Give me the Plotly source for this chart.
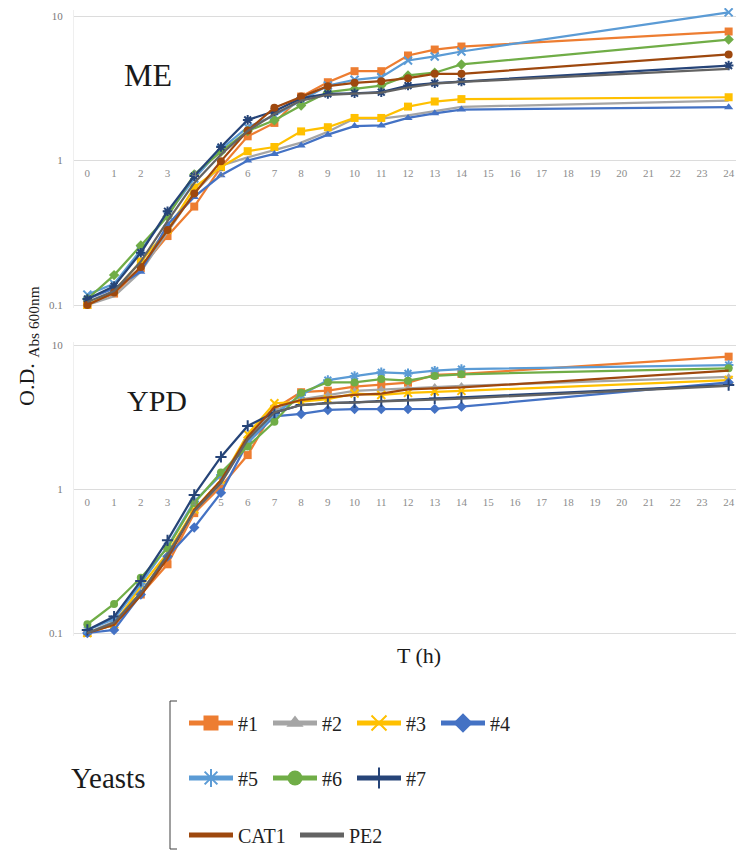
import plotly.graph_objects as go

W, H = 744, 861
OFF = 8  # page body margin of the html page

hours = [0, 1, 2, 3, 4, 5, 6, 7, 8, 9, 10, 11, 12, 13, 14, 24]
names = ["#1", "#2", "#3", "#4", "#5", "#6", "#7", "CAT1", "PE2"]
colors = ["#ED7D31", "#A5A5A5", "#FFC000", "#4472C4", "#5B9BD5", "#70AD47", "#264478", "#9E480E", "#636363"]

# ME medium (top panel)
me_1 = [0.10, 0.12, 0.18, 0.30, 0.48, 0.90, 1.47, 1.82, 2.77, 3.48, 4.15, 4.15, 5.33, 5.86, 6.15, 7.81]
me_2 = [0.10, 0.115, 0.17, 0.32, 0.60, 0.92, 1.05, 1.18, 1.33, 1.58, 1.95, 1.95, 2.05, 2.20, 2.35, 2.60]
me_3 = [0.10, 0.125, 0.20, 0.33, 0.65, 0.90, 1.16, 1.24, 1.59, 1.70, 1.97, 1.97, 2.36, 2.56, 2.66, 2.74]
me_4 = [0.11, 0.13, 0.17, 0.36, 0.56, 0.79, 1.00, 1.11, 1.27, 1.51, 1.73, 1.75, 1.97, 2.12, 2.25, 2.34]
me_5 = [0.118, 0.14, 0.24, 0.42, 0.75, 1.20, 1.70, 2.05, 2.60, 3.30, 3.62, 3.77, 4.92, 5.25, 5.68, 10.6]
me_6 = [0.11, 0.161, 0.258, 0.41, 0.80, 1.15, 1.60, 1.90, 2.40, 2.97, 3.13, 3.30, 3.88, 4.05, 4.62, 6.87]
me_7 = [0.11, 0.135, 0.23, 0.445, 0.78, 1.24, 1.91, 2.19, 2.70, 2.89, 2.92, 2.97, 3.30, 3.43, 3.52, 4.54]
me_cat1 = [0.10, 0.122, 0.183, 0.33, 0.59, 0.99, 1.61, 2.32, 2.77, 3.27, 3.45, 3.54, 3.71, 3.98, 3.98, 5.42]
me_pe2 = [0.105, 0.125, 0.20, 0.38, 0.70, 1.10, 1.60, 2.10, 2.60, 2.85, 2.90, 2.95, 3.20, 3.40, 3.50, 4.31]

# YPD medium (bottom panel)
ypd_1 = [0.10, 0.114, 0.185, 0.30, 0.68, 1.04, 1.72, 3.60, 4.70, 4.82, 5.13, 5.27, 5.47, 6.20, 6.30, 8.30]
ypd_2 = [0.10, 0.12, 0.19, 0.34, 0.70, 1.10, 2.25, 3.50, 4.20, 4.50, 4.80, 4.90, 5.00, 5.10, 5.20, 6.00]
ypd_3 = [0.10, 0.115, 0.21, 0.36, 0.72, 1.15, 2.40, 3.94, 4.05, 4.20, 4.60, 4.50, 4.65, 4.75, 4.80, 5.71]
ypd_4 = [0.10, 0.105, 0.185, 0.34, 0.54, 0.94, 2.10, 3.20, 3.32, 3.54, 3.59, 3.59, 3.59, 3.60, 3.73, 5.50]
ypd_5 = [0.105, 0.125, 0.22, 0.40, 0.82, 1.25, 2.10, 3.30, 4.50, 5.70, 6.09, 6.46, 6.35, 6.63, 6.80, 7.26]
ypd_6 = [0.115, 0.159, 0.242, 0.39, 0.80, 1.30, 1.97, 2.93, 4.66, 5.51, 5.50, 5.80, 5.65, 6.10, 6.26, 6.89]
ypd_7 = [0.105, 0.13, 0.23, 0.44, 0.91, 1.67, 2.74, 3.39, 3.83, 3.95, 4.00, 4.08, 4.15, 4.25, 4.30, 5.27]
ypd_cat1 = [0.10, 0.114, 0.182, 0.33, 0.72, 1.15, 2.30, 3.70, 4.15, 4.33, 4.50, 4.60, 4.92, 5.00, 5.07, 6.63]
ypd_pe2 = [0.10, 0.118, 0.19, 0.35, 0.70, 1.10, 2.20, 3.40, 3.83, 3.95, 4.00, 4.05, 4.10, 4.20, 4.25, 5.20]

me_series = [me_1, me_2, me_3, me_4, me_5, me_6, me_7, me_cat1, me_pe2]
ypd_series = [ypd_1, ypd_2, ypd_3, ypd_4, ypd_5, ypd_6, ypd_7, ypd_cat1, ypd_pe2]

x_ticks = list(range(0, 25))
y_tickvals = [0.1, 1, 10]
y_ticktext = ["0.1", "1", "10"]

top_symbols = ["square", None, "square", "triangle-up", "x-thin", "diamond", "asterisk", "circle", None]
bot_symbols = ["square", "triangle-up", "x-thin", "diamond", "asterisk", "circle", "cross-thin", None, None]
leg_symbols = ["square", "triangle-up", "x-thin", "diamond", "asterisk", "circle", "line-ns", None, None]
leg_groups = ["legend", "legend", "legend", "legend", "legend2", "legend2", "legend2", "legend3", "legend3"]

FONT = "Liberation Serif"


def px(p):
    return (p - OFF) / W


def py(p):
    return 1 - (p - OFF) / H


def marker_for(sym, color, size):
    if sym is None:
        return None
    open_like = sym in ("x-thin", "asterisk", "cross-thin", "line-ns")
    m = dict(symbol=sym, size=size, color=color)
    if open_like:
        m["line"] = dict(color=color, width=2)
    else:
        m["line"] = dict(width=0)
    return m


fig = go.Figure()

for series, syms, xa, ya in [(me_series, top_symbols, "x", "y"), (ypd_series, bot_symbols, "x2", "y2")]:
    for name, color, vals, sym in zip(names, colors, series, syms):
        m = marker_for(sym, color, 8)
        fig.add_trace(go.Scatter(
            x=hours, y=vals, name=name, xaxis=xa, yaxis=ya,
            mode="lines+markers" if m else "lines",
            line=dict(color=color, width=2.25),
            marker=m, showlegend=False, cliponaxis=False, hoverinfo="skip"))

# legend entries
for name, color, sym, lg in zip(names, colors, leg_symbols, leg_groups):
    m = marker_for(sym, color, 15)
    fig.add_trace(go.Scatter(
        x=[None], y=[None], name=name, legend=lg,
        mode="lines+markers" if m else "lines",
        line=dict(color=color, width=5), marker=m))

grid = "#DCDCDC"
xcommon = dict(range=[-0.5, 24.5], tickvals=x_ticks, showgrid=False, zeroline=False,
               showline=False, ticks="", tickfont=dict(family=FONT, size=11, color="#8C8C8C"),
               domain=[px(74), px(742)], ticklabelstandoff=5, automargin=False)
ycommon = dict(type="log", tickvals=y_tickvals, ticktext=y_ticktext, showgrid=True,
               gridcolor=grid, gridwidth=1.3, zeroline=False, showline=True, linecolor="#EFEFEF",
               ticks="", tickfont=dict(family=FONT, size=11, color="#7A7A7A"), ticklabelstandoff=8,
               automargin=False)

top_dom = [py(305 + 0.02 * 144.5), py(16 - 0.04 * 144.5)]
bot_dom = [py(633 + 0.02 * 144), py(345 - 0.02 * 144)]

leg_common = dict(orientation="h", font=dict(family=FONT, size=20, color="#222222"),
                  itemwidth=44, bgcolor="rgba(0,0,0,0)", xanchor="left", yanchor="middle",
                  entrywidth=25, entrywidthmode="pixels", tracegroupgap=0)


def ann(text, x, y, size, **kw):
    return dict(text=text, x=px(x), y=py(y), xref="paper", yref="paper", showarrow=False,
                xanchor="center", yanchor="middle",
                font=dict(family=FONT, size=size, color="#1A1A1A"), **kw)


def seg(x0, y0, x1, y1):
    return dict(type="line", xref="paper", yref="paper", x0=px(x0), x1=px(x1), y0=py(y0), y1=py(y1),
                line=dict(color="#404040", width=1))


fig.update_layout(
    width=W, height=H, margin=dict(l=0, r=0, t=0, b=0, autoexpand=False),
    paper_bgcolor="white", plot_bgcolor="white",
    xaxis=dict(**xcommon, anchor="free", position=py(160)),
    xaxis2=dict(**xcommon, anchor="free", position=py(489)),
    yaxis=dict(**ycommon, range=[-1.02, 1.04], domain=top_dom, anchor="x"),
    yaxis2=dict(**ycommon, range=[-1.02, 1.02], domain=bot_dom, anchor="x2"),
    legend=dict(**leg_common, x=px(184), y=py(723)),
    legend2=dict(**leg_common, x=px(184), y=py(778)),
    legend3=dict(**{**leg_common, "entrywidth": 52}, x=px(184), y=py(835)),
    annotations=[
        ann("ME", 148, 75, 32),
        ann("YPD", 157, 400, 30),
        ann("T (h)", 419, 655, 22),
        ann("O.D. <sub>Abs 600nm</sub>", 28, 346, 22, textangle=-90),
        ann("Yeasts", 108, 778, 29),
    ],
    shapes=[
        seg(170, 701, 170, 849),
        seg(170, 701, 177, 701),
        seg(170, 849, 177, 849),
    ],
)

fig.write_html("out.html")
